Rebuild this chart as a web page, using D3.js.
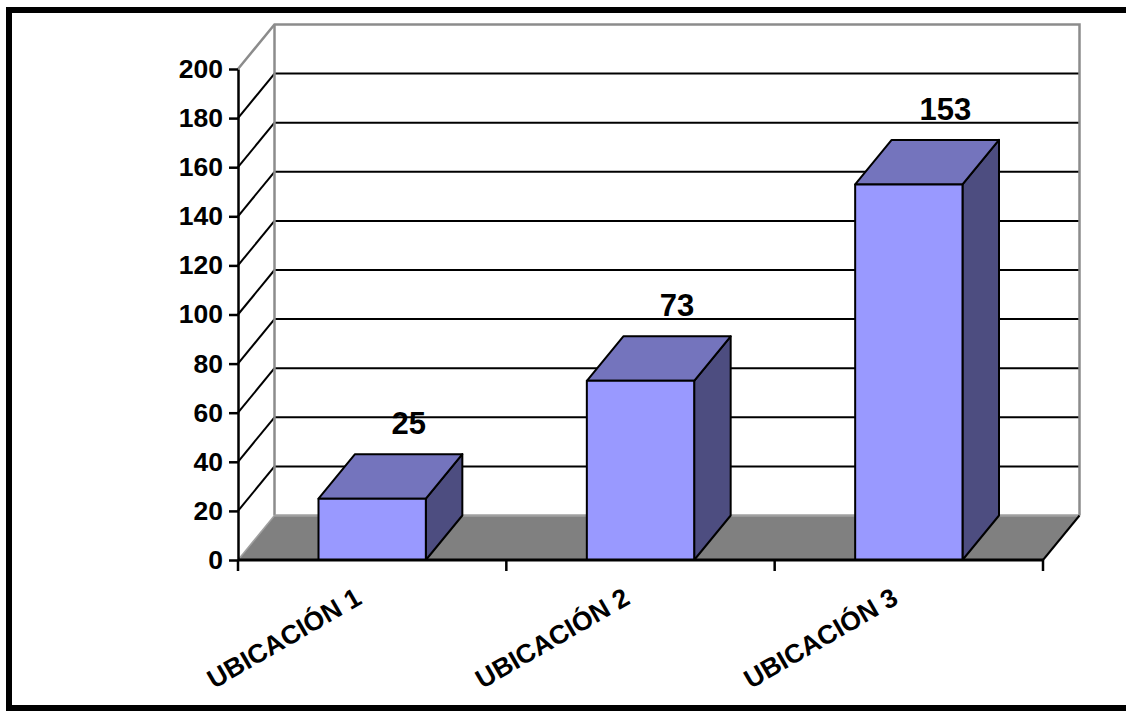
<!DOCTYPE html>
<html>
<head>
<meta charset="utf-8">
<script src="https://cdn.jsdelivr.net/npm/d3@7"></script>
<style>
  html, body { margin: 0; padding: 0; background: #ffffff; }
  svg { display: block; }
</style>
</head>
<body>
<svg id="chart" width="1126" height="711"></svg>
<script>
// Data
const categories = ["UBICACIÓN 1", "UBICACIÓN 2", "UBICACIÓN 3"];
const values = [25, 73, 153];
const yTicks = [0, 20, 40, 60, 80, 100, 120, 140, 160, 180, 200];

const FONT = "'Liberation Sans', Arial, Helvetica, sans-serif";

// Plot geometry (front plane) and 3D depth offset
const plot = { left: 238, right: 1043, top: 69, bottom: 560 };
const depth = { dx: 36.5, dy: -44.5 };

const colors = {
  front: "#9999ff",
  top: "#7474bd",
  side: "#4d4d80",
  floor: "#808080",
  frame: "#8c8c8c"
};

const svg = d3.select("#chart");

// Outer frame
svg.append("rect")
  .attr("x", 9).attr("y", 10)
  .attr("width", 1140).attr("height", 698)
  .attr("fill", "none")
  .attr("stroke", "#000")
  .attr("stroke-width", 6);

// Scales
const y = d3.scaleLinear().domain([0, 200]).range([plot.bottom, plot.top]);
const xBand = d3.scaleBand()
  .domain(categories)
  .range([plot.left, plot.right])
  .paddingInner(0.6)
  .paddingOuter(0.3);
const xCell = d3.scaleBand()
  .domain(categories)
  .range([plot.left, plot.right])
  .padding(0);

const dx = depth.dx, dy = depth.dy;
const yMin = y(0), yMax = y(200);

// Floor
svg.append("polygon")
  .attr("points", [
    [plot.left, yMin], [plot.right, yMin],
    [plot.right + dx, yMin + dy], [plot.left + dx, yMin + dy]
  ].map(p => p.join(",")).join(" "))
  .attr("fill", colors.floor)
  .attr("stroke", "none");

// Back wall gridlines
const grid = svg.append("g");
yTicks.filter(v => v > 0 && v < 200).forEach(v => {
  grid.append("line")
    .attr("x1", plot.left + dx).attr("x2", plot.right + dx)
    .attr("y1", y(v) + dy).attr("y2", y(v) + dy)
    .attr("stroke", "#000").attr("stroke-width", 2);
  grid.append("line")
    .attr("x1", plot.left).attr("y1", y(v))
    .attr("x2", plot.left + dx).attr("y2", y(v) + dy)
    .attr("stroke", "#000").attr("stroke-width", 2);
});

// Back wall frame (gray)
const frame = svg.append("g")
  .attr("fill", "none")
  .attr("stroke", colors.frame)
  .attr("stroke-width", 2.5);
frame.append("polyline")
  .attr("points", [
    [plot.left, yMax], [plot.left + dx, yMax + dy],
    [plot.right + dx, yMax + dy], [plot.right + dx, yMin + dy]
  ].map(p => p.join(",")).join(" "));
frame.append("line")
  .attr("x1", plot.left + dx).attr("y1", yMax + dy)
  .attr("x2", plot.left + dx).attr("y2", yMin + dy);
frame.append("line")
  .attr("x1", plot.left + dx).attr("y1", yMin + dy)
  .attr("x2", plot.right + dx).attr("y2", yMin + dy)
  .attr("stroke", "#a0a0a0");
frame.append("line")
  .attr("x1", plot.left).attr("y1", yMin)
  .attr("x2", plot.left + dx).attr("y2", yMin + dy)
  .attr("stroke", "#a0a0a0").attr("stroke-width", 1.5);

// Floor right edge
svg.append("line")
  .attr("x1", plot.right).attr("y1", yMin)
  .attr("x2", plot.right + dx).attr("y2", yMin + dy)
  .attr("stroke", "#000").attr("stroke-width", 2);

// Bars
const bars = svg.append("g")
  .attr("stroke", "#000")
  .attr("stroke-width", 2)
  .attr("stroke-linejoin", "round");

categories.forEach((c, i) => {
  const x0 = xBand(c), x1 = x0 + xBand.bandwidth();
  const yt = y(values[i]), yb = y(0);
  const pts = a => a.map(p => p.join(",")).join(" ");
  bars.append("polygon")
    .attr("points", pts([[x1, yt], [x1 + dx, yt + dy], [x1 + dx, yb + dy], [x1, yb]]))
    .attr("fill", colors.side);
  bars.append("polygon")
    .attr("points", pts([[x0, yt], [x0 + dx, yt + dy], [x1 + dx, yt + dy], [x1, yt]]))
    .attr("fill", colors.top);
  bars.append("rect")
    .attr("x", x0).attr("y", yt)
    .attr("width", x1 - x0).attr("height", yb - yt)
    .attr("fill", colors.front);
});

// Value labels
svg.append("g")
  .selectAll("text")
  .data(categories)
  .join("text")
  .attr("x", c => xBand(c) + xBand.bandwidth() / 2 + dx)
  .attr("y", (c, i) => y(values[i]) + dy - 20)
  .attr("text-anchor", "middle")
  .attr("font-family", FONT)
  .attr("font-weight", "bold")
  .attr("font-size", 31)
  .attr("fill", "#000")
  .text((c, i) => values[i]);

// Y axis
const yAxis = d3.axisLeft(y)
  .tickValues(yTicks)
  .tickSize(9)
  .tickSizeOuter(0)
  .tickPadding(6);
const gy = svg.append("g")
  .attr("transform", `translate(${plot.left},0)`)
  .call(yAxis);
gy.select(".domain").attr("stroke", "#000").attr("stroke-width", 2.5);
gy.selectAll(".tick line").attr("stroke", "#000").attr("stroke-width", 2.5);
gy.selectAll(".tick text")
  .attr("font-family", FONT)
  .attr("font-weight", "bold")
  .attr("font-size", 26.5)
  .attr("fill", "#000");

// X axis line and ticks at category boundaries
const gx = svg.append("g");
gx.append("line")
  .attr("x1", plot.left).attr("x2", plot.right)
  .attr("y1", yMin).attr("y2", yMin)
  .attr("stroke", "#000").attr("stroke-width", 3);
const tickXs = categories.map(c => xCell(c)).concat([xCell.range()[1]]);
gx.selectAll("line.tick")
  .data(tickXs)
  .join("line")
  .attr("class", "tick")
  .attr("x1", d => d).attr("x2", d => d)
  .attr("y1", yMin).attr("y2", yMin + 11)
  .attr("stroke", "#000").attr("stroke-width", 2.5);

// Category labels (rotated)
gx.selectAll("text")
  .data(categories)
  .join("text")
  .attr("transform", c => `translate(${xCell(c) + xCell.bandwidth() / 2 - 9},603) rotate(-30)`)
  .attr("text-anchor", "end")
  .attr("font-family", FONT)
  .attr("font-weight", "bold")
  .attr("font-size", 26.5)
  .attr("fill", "#000")
  .text(c => c);
</script>
</body>
</html>
